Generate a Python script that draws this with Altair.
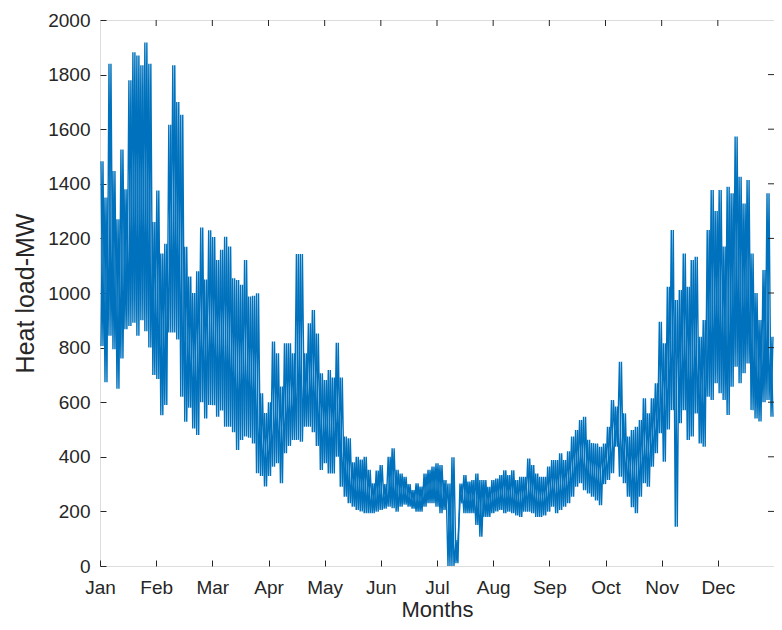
import altair as alt
import pandas as pd

# Month tick labels (ticks every 730 h, i.e. 12 equal parts of 8760 h)
months = ["Jan", "Feb", "Mar", "Apr", "May", "Jun",
          "Jul", "Aug", "Sep", "Oct", "Nov", "Dec"]
month_ticks = [k * 730 for k in range(13)]
y_ticks = list(range(0, 2001, 200))

# Heat load (MW): upper (peak) and lower (trough)
# envelope of the hourly series, one pair per ~52-hour slice of the year.
peak_mw = [
    1483, 1350, 1840, 1447, 1270, 1526, 1380, 1779, 1882, 1870,
    1834, 1918, 1840, 1260, 1375, 1145, 1180, 1616, 1834, 1700,
    1653, 1169, 1060, 1000, 1080, 1240, 1049, 1230, 1205, 1121,
    1158, 1206, 1170, 1054, 1048, 1030, 1121, 987, 990, 999,
    633, 560, 600, 822, 779, 657, 816, 816, 779, 1143,
    1143, 779, 889, 938, 852, 706, 681, 718, 690, 818,
    690, 474, 468, 380, 400, 390, 400, 352, 303, 350,
    370, 300, 400, 431, 352, 339, 327, 300, 278, 303,
    291, 339, 352, 364, 376, 370, 315, 302, 398, 95,
    302, 333, 309, 315, 339, 315, 315, 290, 315, 320,
    333, 351, 333, 351, 315, 327, 327, 394, 370, 339,
    327, 327, 364, 388, 388, 413, 388, 420, 474, 498,
    535, 547, 462, 450, 449, 437, 449, 510, 608, 584,
    748, 559, 474, 498, 510, 535, 614, 559, 614, 669,
    895, 816, 1023, 1231, 974, 1011, 1145, 1023, 1121, 1133,
    840, 901, 1231, 1377, 1300, 1377, 1170, 1389, 1365, 1573,
    1426, 1328, 1414, 1145, 1000, 901, 1084, 1365, 840,
]
trough_mw = [
    806, 673, 843, 794, 649, 760, 867, 879, 891, 843,
    900, 860, 800, 700, 685, 552, 590, 855, 855, 830,
    620, 528, 580, 504, 480, 600, 540, 590, 589, 547,
    570, 510, 510, 490, 425, 462, 474, 470, 449, 340,
    330, 291, 330, 364, 376, 303, 413, 440, 462, 462,
    455, 510, 510, 490, 440, 352, 376, 339, 339, 400,
    290, 254, 230, 217, 205, 200, 193, 193, 193, 199,
    205, 210, 217, 212, 199, 217, 225, 217, 210, 199,
    199, 217, 230, 230, 217, 193, 205, 0, 0, 10,
    229, 193, 193, 193, 150, 107, 180, 180, 193, 200,
    205, 193, 199, 193, 185, 180, 199, 199, 193, 180,
    180, 185, 199, 217, 193, 205, 217, 230, 254, 290,
    303, 278, 266, 254, 240, 223, 300, 315, 340, 437,
    327, 303, 254, 215, 193, 254, 303, 290, 364, 413,
    486, 382, 500, 571, 144, 523, 571, 462, 474, 559,
    449, 437, 620, 608, 669, 633, 608, 553, 657, 730,
    669, 706, 742, 571, 540, 529, 600, 608, 547,
]

n = len(peak_mw)
step = 8760 / n

# two interleaved zig-zag traces through the same peaks and troughs
rows = []
for i in range(n):
    rows.append({"h": (i + 0.25) * step, "mw": peak_mw[i], "trace": "a"})
    rows.append({"h": (i + 0.75) * step, "mw": trough_mw[i], "trace": "a"})
    rows.append({"h": (i + 0.25) * step, "mw": trough_mw[i], "trace": "b"})
    rows.append({"h": (i + 0.75) * step, "mw": peak_mw[i], "trace": "b"})
zig = pd.DataFrame(rows)

blue = "#0072BD"
ink = "#262626"
font = "Liberation Sans"

W, H = 674, 546

label_expr = "datum.value >= 8760 ? '' : " + str(months) + "[round(datum.value / 730)]"

xscale = alt.Scale(domain=[0, 8760], nice=False, zero=False)
yscale = alt.Scale(domain=[0, 2000], nice=False)

x_axis = alt.Axis(values=month_ticks, labelExpr=label_expr, title="Months",
                  tickSize=6, offset=-6, domain=False, grid=False,
                  tickColor=ink, labelColor=ink, titleColor=ink,
                  labelFont=font, titleFont=font, labelFontSize=19,
                  titleFontSize=22, titleFontWeight="normal",
                  labelPadding=12, titlePadding=2, labelFlush=False)
y_axis = alt.Axis(values=y_ticks, format="d", title="Heat load-MW",
                  tickSize=6, offset=-6, domain=False, grid=False,
                  tickColor=ink, labelColor=ink, titleColor=ink,
                  labelFont=font, titleFont=font, labelFontSize=19,
                  titleFontSize=25, titleFontWeight="normal",
                  labelPadding=10, titlePadding=9)

line = alt.Chart(zig).mark_line(color=blue, strokeWidth=1.4, clip=True).encode(
    x=alt.X("h:Q", scale=xscale, axis=x_axis),
    y=alt.Y("mw:Q", scale=yscale, axis=y_axis),
    detail="trace:N",
)

top_ticks = alt.Chart(pd.DataFrame({"t": month_ticks[1:-1]})).mark_rule(
    color=ink, strokeWidth=1).encode(
    x=alt.X("t:Q", scale=xscale), y=alt.value(0), y2=alt.value(6))

right_ticks = alt.Chart(pd.DataFrame({"v": y_ticks[1:-1]})).mark_rule(
    color=ink, strokeWidth=1).encode(
    y=alt.Y("v:Q", scale=yscale), x=alt.value(W - 6), x2=alt.value(W))

chart = alt.layer(line, top_ticks, right_ticks).properties(
    width=W, height=H,
    autosize=alt.AutoSizeParams(type="none"),
    padding={"left": 92, "top": 12, "right": 0, "bottom": 56},
).configure_view(stroke=ink, strokeWidth=1).configure(background="white")

chart.save("out.html", embed_options={"renderer": "svg", "actions": False})
